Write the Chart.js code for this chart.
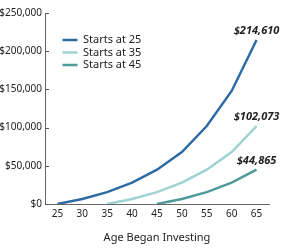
<!DOCTYPE html>
<html>
<head>
<meta charset="utf-8">
<script src="https://cdn.jsdelivr.net/npm/chart.js@4.4.1/dist/chart.umd.min.js"></script>
<style>
  html, body { margin: 0; padding: 0; background: #ffffff; }
  #wrap { width: 281px; height: 250px; }
</style>
</head>
<body>
<div id="wrap"><canvas id="chart" width="281" height="250"></canvas></div>
<script>
"use strict";

// ? DATA
// ! ========================== ! \\
const ages = ["25", "30", "35", "40", "45", "50", "55", "60", "65"];
const startsAt25 = [0, 6500, 15500, 28000, 44865, 68000, 102073, 148000, 214610];
const startsAt35 = [null, null, 0, 6500, 15500, 28000, 44865, 68000, 102073];
const startsAt45 = [null, null, null, null, 0, 6500, 15500, 28000, 44865];
const seriesNames = ["Starts at 25", "Starts at 35", "Starts at 45"];
const seriesColors = ["#2f6ba3", "#9fd2d2", "#4f9b9c"];
const endLabels = ["$214,610", "$102,073", "$44,865"];
const yTicks = [0, 50000, 100000, 150000, 200000, 250000];

const money = (v) => "$" + Number(v).toLocaleString("en-US");

// ? PLUGINS
// ! ========================== ! \\
const innerTicks = {
  id: "innerTicks",
  afterDraw: (chart) => {
    const { ctx, scales } = chart;
    const y = scales.y;
    ctx.save();
    ctx.strokeStyle = "#555555";
    ctx.lineWidth = 1;
    y.ticks.forEach((t) => {
      const py = Math.round(y.getPixelForValue(t.value)) + 0.5;
      ctx.beginPath();
      ctx.moveTo(y.right, py);
      ctx.lineTo(y.right + 4, py);
      ctx.stroke();
    });
    ctx.restore();
  },
};

const endValueLabels = {
  id: "endValueLabels",
  afterDatasetsDraw: (chart) => {
    const { ctx } = chart;
    ctx.save();
    ctx.font = "italic bold 11px 'Noto Sans', sans-serif";
    ctx.fillStyle = "#222222";
    ctx.textAlign = "center";
    ctx.textBaseline = "middle";
    chart.data.datasets.forEach((ds, i) => {
      const pts = chart.getDatasetMeta(i).data;
      const last = pts[pts.length - 1];
      ctx.fillText(endLabels[i], last.x, last.y - 9);
    });
    ctx.restore();
  },
};

// nudge the legend into the upper-left of the plot
const legendShift = {
  id: "legendShift",
  afterLayout: (chart) => {
    const lg = chart.legend;
    if (!lg) return;
    lg.left += 16;
    lg.top += 33;
  },
};

// ? CHART
// ! ========================== ! \\
const datasets = [startsAt25, startsAt35, startsAt45].map((vals, i) => ({
  label: seriesNames[i],
  data: vals,
  borderColor: seriesColors[i],
  backgroundColor: seriesColors[i],
  borderWidth: 2.5,
  pointRadius: 0,
  tension: 0,
  spanGaps: false,
}));

const config = {
  type: "line",
  data: { labels: ages, datasets: datasets },
  options: {
    responsive: false,
    animation: false,
    devicePixelRatio: 1,
    layout: { padding: { top: 13, right: 12, left: 0, bottom: 0 } },
    plugins: {
      legend: {
        position: "chartArea",
        align: "start",
        labels: {
          usePointStyle: true,
          pointStyle: "line",
          pointStyleWidth: 15,
          padding: 1.5,
          color: "#222222",
          font: { family: "'Noto Sans', sans-serif", size: 11 },
        },
      },
      tooltip: { enabled: false },
    },
    scales: {
      x: {
        offset: true,
        grid: { display: false, drawTicks: false },
        border: { display: true, color: "#666666", width: 1 },
        ticks: {
          padding: 4,
          color: "#222222",
          maxRotation: 0,
          font: { family: "'Noto Sans', sans-serif", size: 10 },
        },
        title: {
          display: true,
          text: "Age Began Investing",
          color: "#222222",
          padding: { top: 4, bottom: 6 },
          font: { family: "'Noto Sans', sans-serif", size: 11 },
        },
        afterFit: (scale) => {
          scale.height = 46;
        },
      },
      y: {
        min: 0,
        max: 250000,
        afterBuildTicks: (scale) => {
          scale.ticks = yTicks.map((v) => ({ value: v }));
        },
        grid: { display: false, drawTicks: false },
        border: { display: true, color: "#666666", width: 1 },
        ticks: {
          padding: 3,
          color: "#222222",
          callback: (v) => money(v),
          font: { family: "'Noto Sans', sans-serif", size: 10 },
        },
        afterFit: (scale) => {
          scale.width = 45;
        },
      },
    },
  },
  plugins: [innerTicks, endValueLabels, legendShift],
};

new Chart(document.getElementById("chart").getContext("2d"), config);
</script>
</body>
</html>
